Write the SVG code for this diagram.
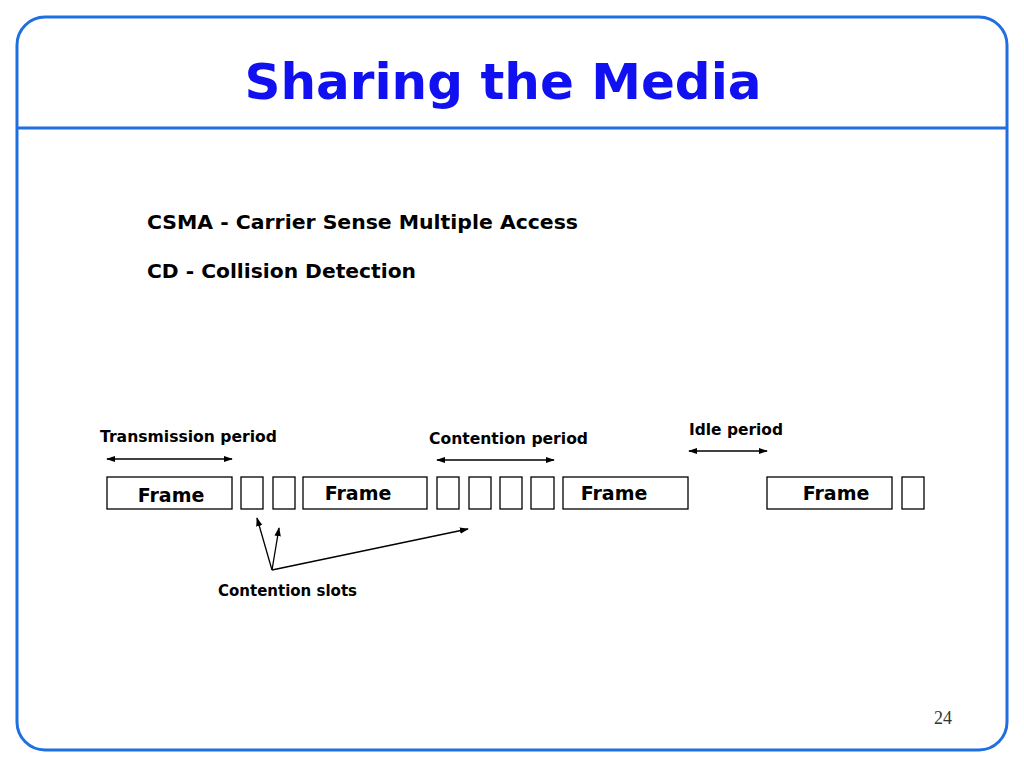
<svg xmlns="http://www.w3.org/2000/svg" width="1024" height="768" viewBox="0 0 1024 768">
<defs>
<marker id="ah" viewBox="0 0 10 10" refX="9" refY="5" markerWidth="7" markerHeight="7" orient="auto-start-reverse"><path d="M0,1.5 L10,5 L0,8.5 z" fill="#000"/></marker>
<style>
.t{font-family:"DejaVu Sans",Verdana,sans-serif;font-weight:bold;fill:#000}
.b{fill:#fff;stroke:#000;stroke-width:1.3}
.c{stroke:#000;stroke-width:1.3;fill:none}
</style>
</defs>
<rect width="1024" height="768" fill="#fff"/>
<rect x="17" y="17" width="990" height="733" rx="28" fill="#fff" stroke="#1f6fe0" stroke-width="3"/>
<line x1="17" y1="128" x2="1007" y2="128" stroke="#1f6fe0" stroke-width="3"/>
<text x="503" y="99" text-anchor="middle" font-family="'Comic Sans MS','DejaVu Sans',sans-serif" font-weight="bold" font-size="50" fill="#1010f0">Sharing the Media</text>
<text class="t" x="147" y="229" font-size="20" textLength="431" lengthAdjust="spacingAndGlyphs">CSMA - Carrier Sense  Multiple Access</text>
<text class="t" x="147" y="278" font-size="20" textLength="269" lengthAdjust="spacingAndGlyphs">CD - Collision Detection</text>
<text class="t" x="100" y="442" font-size="16" textLength="177" lengthAdjust="spacingAndGlyphs">Transmission  period</text>
<text class="t" x="429" y="444" font-size="16" textLength="159" lengthAdjust="spacingAndGlyphs">Contention  period</text>
<text class="t" x="689" y="435" font-size="16" textLength="94" lengthAdjust="spacingAndGlyphs">Idle period</text>
<text class="t" x="218" y="596" font-size="16" textLength="139" lengthAdjust="spacingAndGlyphs">Contention slots</text>
<text x="943" y="724" text-anchor="middle" font-family="'Liberation Serif',serif" font-size="18" fill="#333">24</text>
<g id="f1"><rect class="b" x="107" y="477" width="125" height="32"/><text class="t" x="171" y="502" font-size="19" text-anchor="middle">Frame</text></g>
<g id="s1"><rect class="b" x="241" y="477" width="22" height="32"/></g>
<g id="s2"><rect class="b" x="273" y="477" width="22" height="32"/></g>
<g id="f2"><rect class="b" x="303" y="477" width="124" height="32"/><text class="t" x="358" y="500" font-size="19" text-anchor="middle">Frame</text></g>
<g id="s3"><rect class="b" x="437" y="477" width="22" height="32"/></g>
<g id="s4"><rect class="b" x="469" y="477" width="22" height="32"/></g>
<g id="s5"><rect class="b" x="500" y="477" width="22" height="32"/></g>
<g id="s6"><rect class="b" x="531" y="477" width="23" height="32"/></g>
<g id="f3"><rect class="b" x="563" y="477" width="125" height="32"/><text class="t" x="614" y="500" font-size="19" text-anchor="middle">Frame</text></g>
<g id="f4"><rect class="b" x="767" y="477" width="125" height="32"/><text class="t" x="836" y="500" font-size="19" text-anchor="middle">Frame</text></g>
<g id="s7"><rect class="b" x="902" y="477" width="22" height="32"/></g>
<g id="connectors">
<line class="c" x1="107" y1="459" x2="232" y2="459" marker-start="url(#ah)" marker-end="url(#ah)"/>
<line class="c" x1="437" y1="460" x2="554" y2="460" marker-start="url(#ah)" marker-end="url(#ah)"/>
<line class="c" x1="689" y1="451" x2="767" y2="451" marker-start="url(#ah)" marker-end="url(#ah)"/>
<line class="c" x1="272" y1="570" x2="257" y2="518" marker-end="url(#ah)"/>
<line class="c" x1="272" y1="570" x2="279" y2="528" marker-end="url(#ah)"/>
<line class="c" x1="272" y1="570" x2="468" y2="529" marker-end="url(#ah)"/>
</g>
</svg>
